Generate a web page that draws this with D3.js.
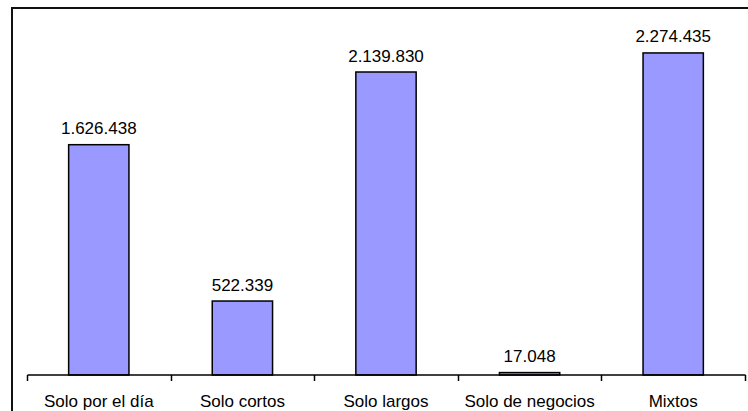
<!DOCTYPE html>
<html><head><meta charset="utf-8">
<script src="https://cdn.jsdelivr.net/npm/d3@7"></script>
<style>body{margin:0;background:#fff}svg{display:block}</style>
</head><body>
<script>
const categories = ["Solo por el día", "Solo cortos", "Solo largos", "Solo de negocios", "Mixtos"];
const values = [1626438, 522339, 2139830, 17048, 2274435];
const labels = ["1.626.438", "522.339", "2.139.830", "17.048", "2.274.435"];

const W = 748, H = 411;
const FONT = "Liberation Sans, Arial, sans-serif";
const svg = d3.select("body").append("svg").attr("width", W).attr("height", H);

svg.append("rect").attr("x", 12).attr("y", 8).attr("width", 760).attr("height", 420)
  .attr("fill", "none").attr("stroke", "#111").attr("stroke-width", 2);

const x = d3.scaleBand().domain(categories).range([27, 745]).paddingInner(0.58).paddingOuter(0.29);
const y = d3.scaleLinear().domain([0, 2500000]).range([375, 21]);

svg.selectAll("rect.bar").data(values).join("rect").attr("class", "bar")
  .attr("x", (d, i) => x(categories[i]))
  .attr("y", d => y(d))
  .attr("width", x.bandwidth())
  .attr("height", d => y(0) - y(d))
  .attr("fill", "#9999ff").attr("stroke", "#000").attr("stroke-width", 1.5);

svg.selectAll("text.val").data(values).join("text").attr("class", "val")
  .attr("x", (d, i) => x(categories[i]) + x.bandwidth() / 2)
  .attr("y", d => y(d) - 10.5)
  .attr("text-anchor", "middle")
  .attr("font-family", FONT).attr("font-size", 17).attr("fill", "#000")
  .text((d, i) => labels[i]);

const xb = d3.scaleBand().domain(categories).range([27, 745]);
const ax = svg.append("g").attr("transform", "translate(0,375)")
  .call(d3.axisBottom(xb).tickSize(0).tickPadding(0));
ax.select(".domain").attr("stroke", "#000").attr("stroke-width", 1.5).attr("d", "M27.5,0H745.5");
ax.selectAll(".tick text").attr("font-family", FONT)
  .attr("font-size", 17).attr("fill", "#000").attr("dy", 0).attr("y", 32);
ax.selectAll(".tick line").remove();
const edges = d3.range(categories.length + 1).map(i => 27 + i * xb.step());
ax.selectAll("line.edge").data(edges).join("line").attr("class", "edge")
  .attr("x1", d => Math.round(d) + 0.5).attr("x2", d => Math.round(d) + 0.5)
  .attr("y1", 0).attr("y2", 6).attr("stroke", "#000").attr("stroke-width", 1.5);
</script>
</body></html>
